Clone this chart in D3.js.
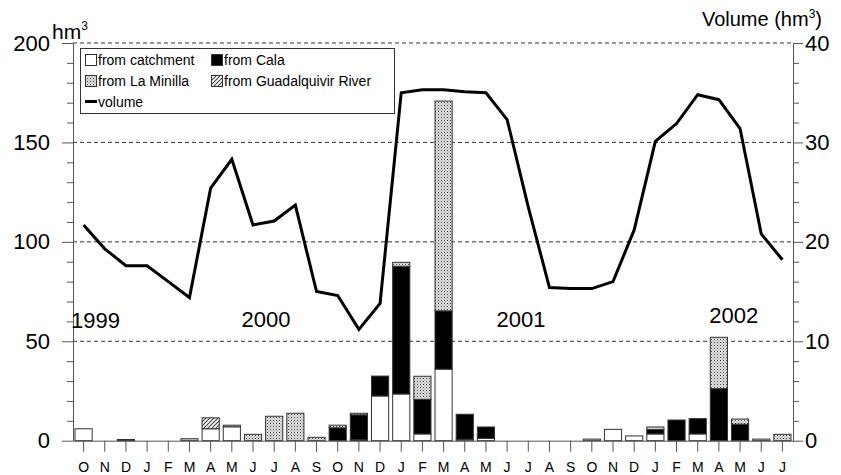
<!DOCTYPE html>
<html><head><meta charset="utf-8">
<script src="https://cdn.jsdelivr.net/npm/d3@7/dist/d3.min.js"></script>
<style>
body{margin:0;background:#fff;}
svg{font-family:"Liberation Sans",Arial,sans-serif;}
</style></head>
<body><svg id="c" width="841" height="475"></svg>
<script>
const months = ["O","N","D","J","F","M","A","M","J","J","A","S","O","N","D","J","F","M","A","M","J","J","A","S","O","N","D","J","F","M","A","M","J","J"];
const catchment = [6,0,0,0,0,0,6,7,0,0,0,0, 0,0.5,22.5,23.5,3.4,36,0.7,1.2,0,0,0,0, 0,5.7,2.4,3.4,0,3.4,0,0,0,0];
const cala =      [0,0,0.6,0,0,0,0,0,0,0,0,0, 6.5,12.5,10,64.2,17.4,29.3,12.6,5.7,0,0,0,0, 0,0,0,2.2,10.4,7.7,26.2,8.3,0,0];
const minilla =   [0,0,0,0,0,1,0,0.8,3.2,12.3,13.8,1.7, 1.3,0.8,0,2,11.6,105.5,0,0,0,0,0,0, 0.8,0,0,1.3,0,0,25.8,2.6,0.8,3.2];
const guadalquivir = [0,0,0,0,0,0,5.5,0,0,0,0,0, 0,0,0,0,0,0,0,0,0,0,0,0, 0,0,0,0,0,0,0,0,0,0];
const volume = [21.7,19.3,17.6,17.6,16.0,14.4,25.4,28.3,21.7,22.1,23.7,15.0, 14.6,11.2,13.8,35.0,35.3,35.3,35.1,35.0,32.3,23.5,15.4,15.3, 15.3,16.0,21.2,30.1,31.9,34.8,34.3,31.4,20.8,18.2];
const leftMajor = [0,50,100,150,200];
const rightMajor = [0,10,20,30,40];
const years = [{t:"1999",i:0},{t:"2000",i:8},{t:"2001",i:20},{t:"2002",i:30}];
const seriesNames = ["from catchment","from Cala","from La Minilla","from Guadalquivir River"];

const svg = d3.select("#c");
const L = 73, R = 793, T = 43, B = 440.7;
const idx = months.map((d,i)=>i);
const x = d3.scaleBand().domain(idx).range([L,R]).paddingInner(0.19).paddingOuter(0.095);
const xc = i => x(i) + x.bandwidth()/2;
const y = d3.scaleLinear().domain([0,200]).range([B,T]);
const y2 = d3.scaleLinear().domain([0,40]).range([B,T]);

// patterns
const defs = svg.append("defs");
const pd = defs.append("pattern").attr("id","dots").attr("patternUnits","userSpaceOnUse").attr("width",3).attr("height",3);
pd.append("rect").attr("width",3).attr("height",3).attr("fill","#e0e0e0");
pd.append("rect").attr("x",0).attr("y",0).attr("width",1).attr("height",1).attr("fill","#444");
pd.append("rect").attr("x",1.5).attr("y",1.5).attr("width",1).attr("height",1).attr("fill","#888");
const ph = defs.append("pattern").attr("id","hatch").attr("patternUnits","userSpaceOnUse").attr("width",4).attr("height",4);
ph.append("rect").attr("width",4).attr("height",4).attr("fill","#fff");
ph.append("path").attr("d","M-1,1 l2,-2 M0,4 l4,-4 M3,5 l2,-2").attr("stroke","#444").attr("stroke-width",1.1);
const fills = ["#fff","#000","url(#dots)","url(#hatch)"];

// gridlines
svg.append("g").selectAll("line").data(leftMajor.filter(d=>d>0)).join("line")
  .attr("x1",L).attr("x2",R).attr("y1",d=>y(d)).attr("y2",d=>y(d))
  .attr("stroke","#333").attr("stroke-width",1).attr("stroke-dasharray","4,3");

// bars
const rows = idx.map(i=>({i, catchment:catchment[i], cala:cala[i], minilla:minilla[i], guad:guadalquivir[i]}));
const stack = d3.stack().keys(["catchment","cala","minilla","guad"])(rows);
svg.append("g").selectAll("g").data(stack).join("g")
  .attr("fill",(d,k)=>fills[k])
  .selectAll("rect").data(d=>d.filter(s=>s[1]-s[0]>0)).join("rect")
  .attr("x",d=>x(d.data.i)).attr("width",x.bandwidth())
  .attr("y",d=>y(d[1])).attr("height",d=>y(d[0])-y(d[1]))
  .attr("stroke","#333").attr("stroke-width",1);

// volume line
svg.append("path").datum(volume)
  .attr("d",d3.line().x((d,i)=>xc(i)).y(d=>y2(d)))
  .attr("fill","none").attr("stroke","#000").attr("stroke-width",3).attr("stroke-linejoin","miter");

// axes
const axCol = "#555";
function styleAxis(g){ g.selectAll("path,line").attr("stroke",axCol); g.selectAll("text").attr("fill","#000").attr("font-family","Liberation Sans, Arial, sans-serif"); }
svg.append("g").attr("transform",`translate(${L},0)`)
  .call(d3.axisLeft(y).tickValues(d3.range(10,200,10).filter(d=>d%50)).tickSize(6).tickSizeOuter(0).tickFormat(""))
  .call(styleAxis);
svg.append("g").attr("transform",`translate(${L},0)`)
  .call(d3.axisLeft(y).tickValues(leftMajor).tickSize(11).tickSizeOuter(0).tickPadding(12))
  .call(styleAxis).call(g=>g.selectAll("text").attr("font-size",22));
svg.append("g").attr("transform",`translate(${R},0)`)
  .call(d3.axisRight(y2).tickValues(d3.range(2,40,2).filter(d=>d%10)).tickSize(6).tickSizeOuter(0).tickFormat(""))
  .call(styleAxis);
svg.append("g").attr("transform",`translate(${R},0)`)
  .call(d3.axisRight(y2).tickValues(rightMajor).tickSize(10).tickSizeOuter(0).tickPadding(2))
  .call(styleAxis).call(g=>g.selectAll("text").attr("font-size",22));
svg.append("g").attr("transform",`translate(0,${B})`)
  .call(d3.axisBottom(x).tickSize(11).tickSizeOuter(0).tickPadding(10).tickFormat(i=>months[i]))
  .call(styleAxis).call(g=>g.selectAll("text").attr("font-size",14));

// titles
const t1 = svg.append("text").attr("x",52).attr("y",39).attr("font-size",21);
t1.append("tspan").text("hm");
t1.append("tspan").attr("font-size",12).attr("dy",-9).text("3");
const t2 = svg.append("text").attr("x",822).attr("y",26).attr("font-size",20).attr("text-anchor","end");
t2.append("tspan").text("Volume (hm");
t2.append("tspan").attr("font-size",12).attr("dy",-8).text("3");
t2.append("tspan").attr("dy",8).text(")");

// year labels
const yearY = {"1999":328,"2000":327,"2001":327,"2002":323};
const yearDx = {"1999":-4,"2000":-3,"2001":-2,"2002":-1};
svg.append("g").selectAll("text").data(years).join("text")
  .attr("x",d=>x(d.i)+yearDx[d.t]).attr("y",d=>yearY[d.t])
  .attr("font-size",22).text(d=>d.t);

// legend
const lg = svg.append("g");
lg.append("rect").attr("x",80.5).attr("y",48.5).attr("width",314).attr("height",65)
  .attr("fill","#fff").attr("stroke","#333").attr("stroke-width",1);
const items = [
  {n:seriesNames[0],f:fills[0],cx:85,cy:60},
  {n:seriesNames[1],f:fills[1],cx:211,cy:60},
  {n:seriesNames[2],f:fills[2],cx:85,cy:81},
  {n:seriesNames[3],f:fills[3],cx:211,cy:81}
];
items.forEach(it=>{
  lg.append("rect").attr("x",it.cx+0.5).attr("y",it.cy-5.5).attr("width",11).attr("height",11)
    .attr("fill",it.f).attr("stroke","#333").attr("stroke-width",1);
  lg.append("text").attr("x",it.cx+13).attr("y",it.cy+5).attr("font-size",14).text(it.n);
});
lg.append("line").attr("x1",85).attr("x2",97).attr("y1",101.5).attr("y2",101.5).attr("stroke","#000").attr("stroke-width",3);
lg.append("text").attr("x",98).attr("y",106.5).attr("font-size",14).text("volume");
</script></body></html>
